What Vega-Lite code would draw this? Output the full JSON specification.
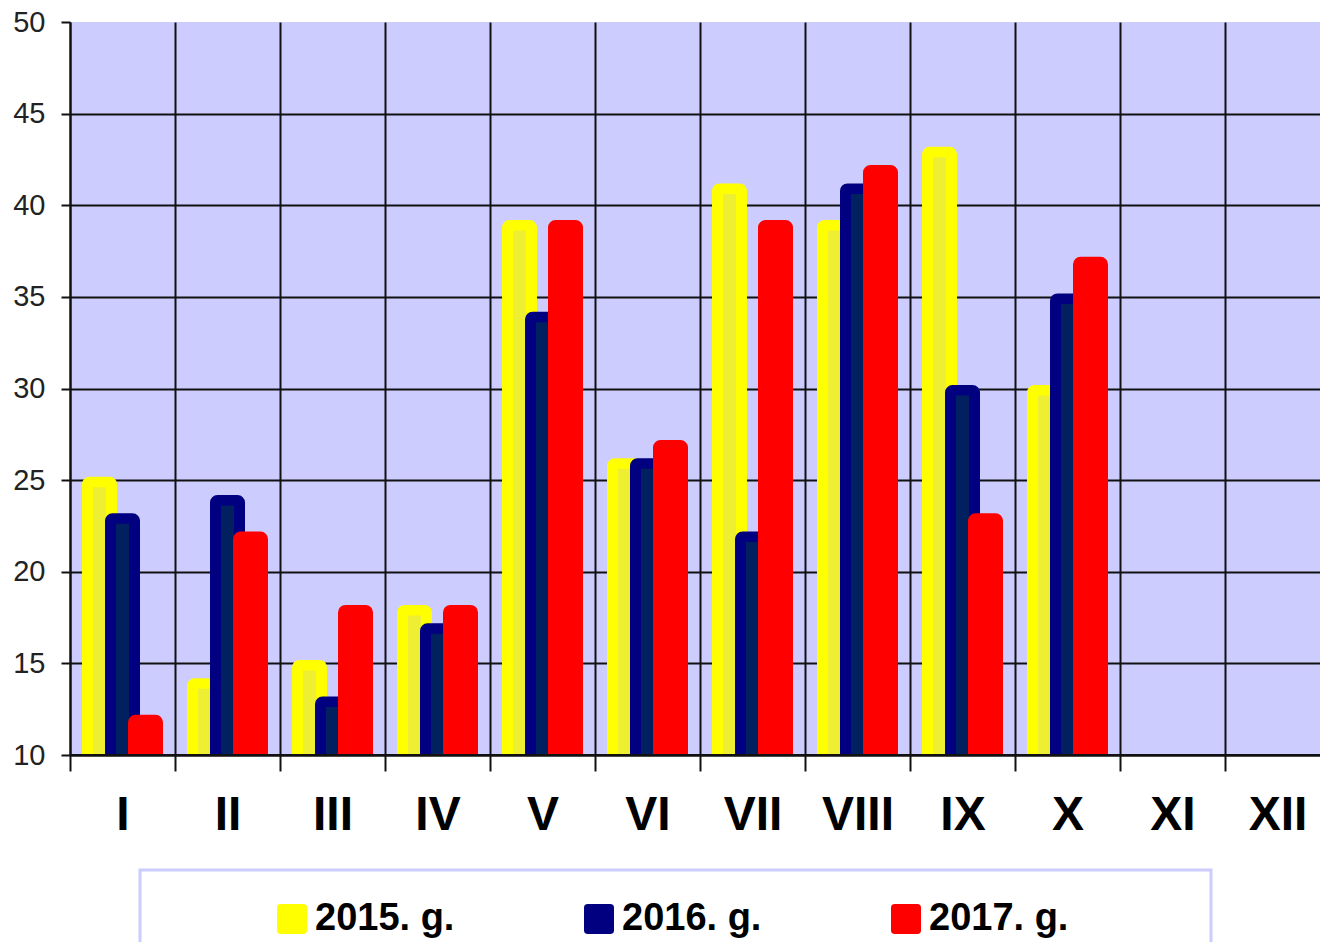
{
  "$schema": "https://vega.github.io/schema/vega-lite/v6.json",
  "width": 1260,
  "height": 733,
  "autosize": "none",
  "padding": {"left": 70, "top": 22, "right": -10, "bottom": 187},
  "background": "white",
  "config": {"view": {"fill": "#CCCCFF", "stroke": null}, "font": "Liberation Sans", "legend": {"strokeWidth": 3}},
  "data": {"values": [
    {"month": "I", "series": "2015. g.", "value": 25},
    {"month": "I", "series": "2016. g.", "value": 23},
    {"month": "I", "series": "2017. g.", "value": 12},
    {"month": "II", "series": "2015. g.", "value": 14},
    {"month": "II", "series": "2016. g.", "value": 24},
    {"month": "II", "series": "2017. g.", "value": 22},
    {"month": "III", "series": "2015. g.", "value": 15},
    {"month": "III", "series": "2016. g.", "value": 13},
    {"month": "III", "series": "2017. g.", "value": 18},
    {"month": "IV", "series": "2015. g.", "value": 18},
    {"month": "IV", "series": "2016. g.", "value": 17},
    {"month": "IV", "series": "2017. g.", "value": 18},
    {"month": "V", "series": "2015. g.", "value": 39},
    {"month": "V", "series": "2016. g.", "value": 34},
    {"month": "V", "series": "2017. g.", "value": 39},
    {"month": "VI", "series": "2015. g.", "value": 26},
    {"month": "VI", "series": "2016. g.", "value": 26},
    {"month": "VI", "series": "2017. g.", "value": 27},
    {"month": "VII", "series": "2015. g.", "value": 41},
    {"month": "VII", "series": "2016. g.", "value": 22},
    {"month": "VII", "series": "2017. g.", "value": 39},
    {"month": "VIII", "series": "2015. g.", "value": 39},
    {"month": "VIII", "series": "2016. g.", "value": 41},
    {"month": "VIII", "series": "2017. g.", "value": 42},
    {"month": "IX", "series": "2015. g.", "value": 43},
    {"month": "IX", "series": "2016. g.", "value": 30},
    {"month": "IX", "series": "2017. g.", "value": 23},
    {"month": "X", "series": "2015. g.", "value": 30},
    {"month": "X", "series": "2016. g.", "value": 35},
    {"month": "X", "series": "2017. g.", "value": 37}
  ]},
  "layer": [
    {
      "encoding": {
        "x": {
          "field": "month", "type": "nominal",
          "sort": ["I","II","III","IV","V","VI","VII","VIII","IX","X","XI","XII"],
          "scale": {"domain": ["I","II","III","IV","V","VI","VII","VIII","IX","X","XI","XII"], "paddingInner": 0, "paddingOuter": 0},
          "axis": {
            "title": null, "tickBand": "extent", "labelAngle": 0,
            "domainColor": "#111", "domainWidth": 2,
            "tickColor": "#111", "tickWidth": 2, "tickSize": 16,
            "grid": true, "gridColor": "#111", "gridWidth": 2,
            "labelFont": "Liberation Sans", "labelFontSize": 48, "labelFontWeight": "bold",
            "labelColor": "black", "labelPadding": 20
          }
        },
        "y": {
          "field": "value", "type": "quantitative",
          "scale": {"domain": [10, 50], "zero": false, "nice": false},
          "axis": {
            "title": null, "values": [10, 15, 20, 25, 30, 35, 40, 45, 50],
            "domainColor": "#111", "domainWidth": 2,
            "tickColor": "#111", "tickWidth": 2, "tickSize": 9,
            "grid": true,
            "gridColor": {"condition": {"test": "datum.value === 50", "value": "rgba(0,0,0,0)"}, "value": "#111"},
            "gridWidth": 2,
            "labelFont": "Liberation Sans", "labelFontSize": 29, "labelColor": "#222", "labelPadding": 16
          }
        },
        "y2": {"datum": 10}
      },
      "layer": [
        {
          "transform": [{"filter": "datum.series === '2015. g.'"}],
          "mark": {"type": "bar", "width": 28, "xOffset": -23, "stroke": "#FFFF00", "strokeWidth": 7, "strokeJoin": "round", "cornerRadiusTopLeft": 4, "cornerRadiusTopRight": 4, "clip": true},
          "encoding": {
            "color": {
              "field": "series", "type": "nominal",
              "scale": {"domain": ["2015. g.", "2016. g.", "2017. g."], "range": ["#FFFF00", "#000080", "#FF0000"]},
              "legend": {
                "orient": "none", "legendX": 70, "legendY": 848,
                "direction": "horizontal", "columns": 3,
                "title": "MMMMMM",
                "titleOrient": "left", "titleFont": "Liberation Sans", "titleFontSize": 20, "titleFontWeight": "normal", "titlePadding": 3,
                "titleColor": "rgba(255,255,255,0)",
                "padding": 30, "strokeColor": "#CCCCFF", "fillColor": "white",
                "symbolType": "M-0.75,-1L0.75,-1Q1,-1,1,-0.75L1,0.75Q1,1,0.75,1L-0.75,1Q-1,1,-1,0.75L-1,-0.75Q-1,-1,-0.75,-1Z",
                "symbolSize": 900, "symbolStrokeWidth": 0, "symbolOpacity": 1,
                "labelFont": "Liberation Sans", "labelFontSize": 38, "labelFontWeight": "bold",
                "labelColor": "black", "labelOffset": 4, "labelLimit": 600, "columnPadding": 125,
                "labelExpr": "datum.label === '2017. g.' ? datum.label + '\u2800\u2800\u2800\u2800' : datum.label"
              }
            }
          }
        },
        {
          "transform": [{"filter": "datum.series === '2015. g.'"}],
          "mark": {"type": "bar", "width": 13, "xOffset": -23, "yOffset": 7, "fill": "#EEEE33", "clip": true}
        },
        {
          "transform": [{"filter": "datum.series === '2016. g.'"}],
          "mark": {"type": "bar", "width": 28, "xOffset": 0, "stroke": "#000080", "strokeWidth": 7, "strokeJoin": "round", "cornerRadiusTopLeft": 4, "cornerRadiusTopRight": 4, "clip": true},
          "encoding": {"color": {"field": "series", "type": "nominal"}}
        },
        {
          "transform": [{"filter": "datum.series === '2016. g.'"}],
          "mark": {"type": "bar", "width": 13, "xOffset": 0, "yOffset": 7, "fill": "#002060", "clip": true}
        },
        {
          "transform": [{"filter": "datum.series === '2017. g.'"}],
          "mark": {"type": "bar", "width": 28, "xOffset": 23, "stroke": "#FF0000", "strokeWidth": 7, "strokeJoin": "round", "cornerRadiusTopLeft": 4, "cornerRadiusTopRight": 4, "clip": true},
          "encoding": {"color": {"field": "series", "type": "nominal"}}
        }
      ]
    },
    {
      "mark": {"type": "rule", "color": "#111", "strokeWidth": 2},
      "encoding": {"y": {"datum": 10}}
    }
  ]
}
